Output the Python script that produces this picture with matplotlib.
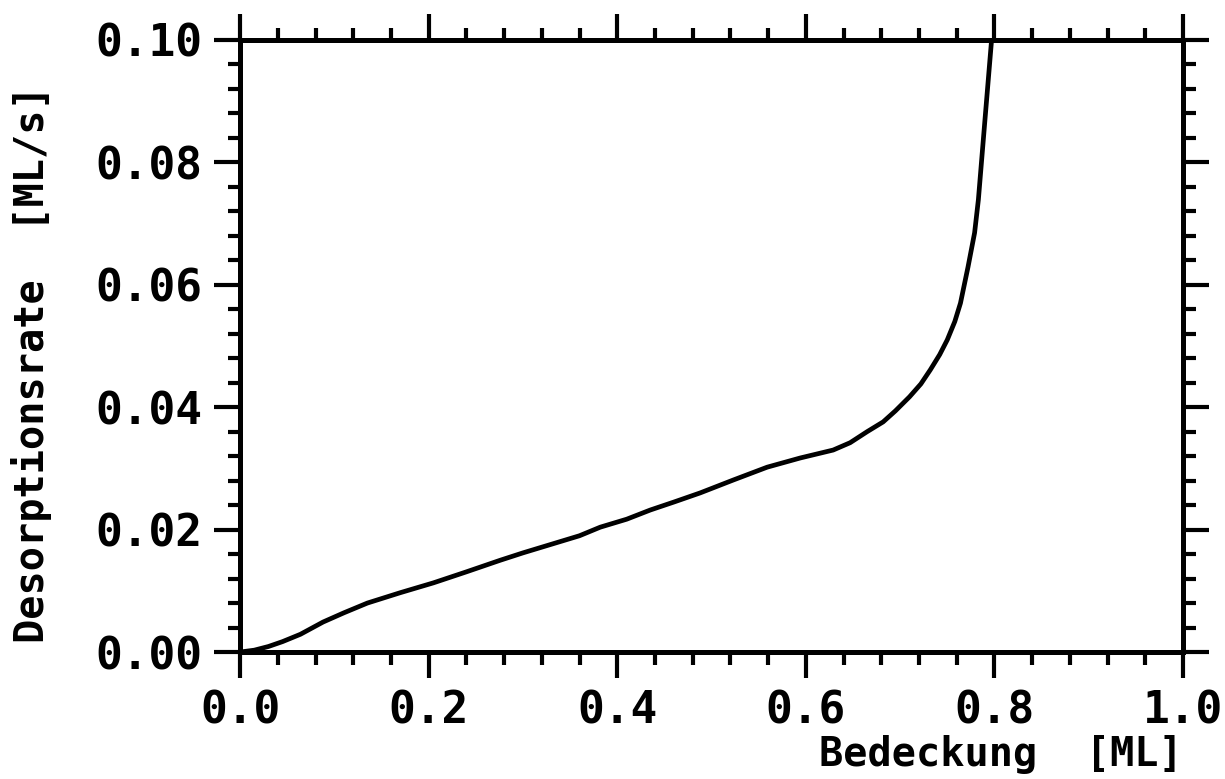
import matplotlib.pyplot as plt
import numpy as np
from matplotlib.ticker import MultipleLocator, FormatStrFormatter

# coverage [ML] and desorption rate [ML/s]
coverage = [0.0, 0.015, 0.03, 0.045, 0.064, 0.088, 0.11, 0.135, 0.17, 0.205,
            0.24, 0.276, 0.30, 0.33, 0.36, 0.382, 0.41, 0.435, 0.46, 0.488,
            0.523, 0.559, 0.594, 0.629, 0.647, 0.665, 0.682, 0.695, 0.710, 0.722,
            0.732, 0.742, 0.750, 0.758, 0.764, 0.772, 0.779, 0.783, 0.790, 0.797]
rate = [0.0, 0.0003, 0.0009, 0.0017, 0.0029, 0.0049, 0.0064, 0.0080, 0.0097, 0.0113,
        0.0131, 0.0150, 0.0162, 0.0176, 0.0190, 0.0204, 0.0217, 0.0232, 0.0245, 0.0260,
        0.0281, 0.0302, 0.0317, 0.0330, 0.0342, 0.0360, 0.0376, 0.0394, 0.0417, 0.0438,
        0.0461, 0.0486, 0.0510, 0.0540, 0.0570, 0.0629, 0.0685, 0.0739, 0.0870, 0.1000]

plt.rcParams['font.family'] = 'DejaVu Sans Mono'
plt.rcParams['font.weight'] = 'bold'

fig = plt.figure(figsize=(12.25, 7.79), dpi=100)
ax = fig.add_axes([0.196, 0.163, 0.7697, 0.7857])

ax.plot(coverage, rate, color='k', lw=3.4, solid_capstyle='butt')

ax.set_xlim(0, 1.0)
ax.set_ylim(0, 0.10)
ax.xaxis.set_major_locator(MultipleLocator(0.2))
ax.xaxis.set_minor_locator(MultipleLocator(0.04))
ax.yaxis.set_major_locator(MultipleLocator(0.02))
ax.yaxis.set_minor_locator(MultipleLocator(0.004))
ax.xaxis.set_major_formatter(FormatStrFormatter('%.1f'))
ax.yaxis.set_major_formatter(FormatStrFormatter('%.2f'))

for s in ax.spines.values():
    s.set_linewidth(3.6)
ax.tick_params(which='both', direction='out', top=True, right=True,
               labeltop=False, labelright=False, width=3.0)
ax.tick_params(which='major', length=19, labelsize=32, pad=8)
ax.tick_params(which='minor', length=9)

ax.set_xlabel('Bedeckung  [ML]', fontsize=29, fontweight='bold', loc='right')
ax.xaxis.set_label_coords(1.0, -0.136)
ax.set_ylabel('Desorptionsrate  [ML/s]', fontsize=29, fontweight='bold')
ax.yaxis.set_label_coords(-0.20, 0.47)

fig.savefig('out.png', dpi=100)
